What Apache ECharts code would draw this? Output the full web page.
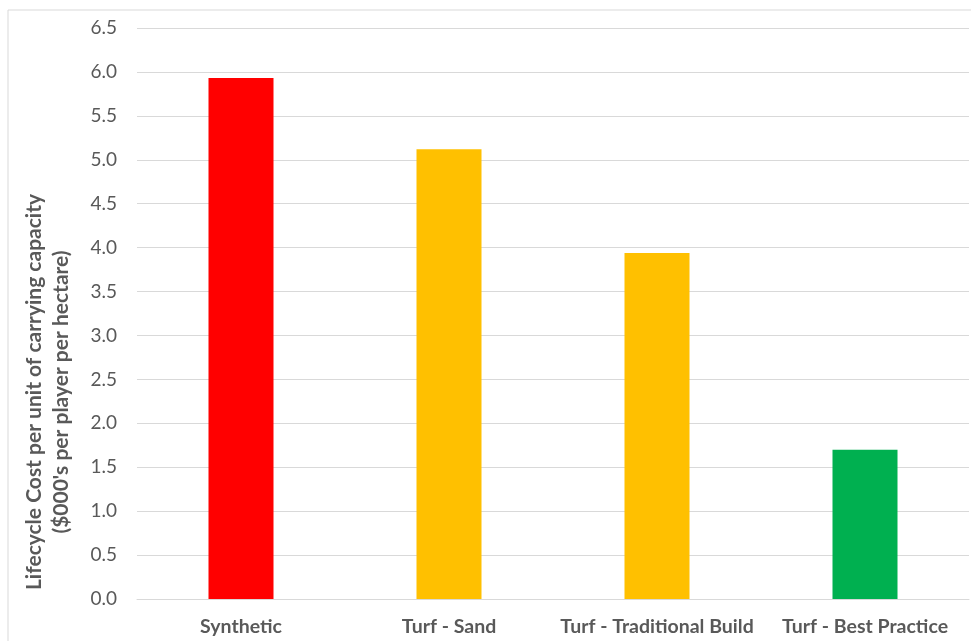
<!DOCTYPE html>
<html><head><meta charset="utf-8">
<script src="https://cdn.jsdelivr.net/npm/echarts@6/dist/echarts.min.js"></script>
<style>html,body{margin:0;padding:0;background:#fff}#c{width:971px;height:641px}</style>
</head><body><div id="c"></div>
<script>
const categories = ['Synthetic', 'Turf - Sand', 'Turf - Traditional Build', 'Turf - Best Practice'];
const values = [5.93, 5.12, 3.94, 1.70];
const barColors = ['#FF0000', '#FFC000', '#FFC000', '#00B050'];
const yAxisTitle = "Lifecycle Cost per unit of carrying capacity\n($000's per player per hectare)";

const chart = echarts.init(document.getElementById('c'), null, {renderer: 'canvas'});
const font = 'Lato, "Open Sans", sans-serif';
chart.setOption({
  animation: false,
  graphic: [
    {type: 'rect', shape: {x: 8, y: 10, width: 980, height: 650}, style: {fill: 'none', stroke: '#d9d9d9', lineWidth: 1}, silent: true},
    {type: 'text', x: 48, y: 392, rotation: Math.PI / 2, silent: true,
     style: {text: yAxisTitle, fill: '#595959', font: 'bold 21px ' + font, align: 'center', verticalAlign: 'middle', lineHeight: 27}}
  ],
  grid: {left: 137, right: 2, top: 28, bottom: 42, containLabel: false},
  xAxis: {
    type: 'category', data: categories,
    axisLine: {show: true, lineStyle: {color: '#d9d9d9', width: 1}},
    axisTick: {show: false},
    axisLabel: {interval: 0, color: '#595959', fontSize: 19.5, fontWeight: 'bold', fontFamily: font, margin: 18}
  },
  yAxis: {
    type: 'value', min: 0, max: 6.5, interval: 0.5,
    axisLine: {show: false}, axisTick: {show: false},
    splitLine: {lineStyle: {color: '#d9d9d9', width: 1}},
    axisLabel: {color: '#595959', fontSize: 19, fontFamily: font, margin: 20, formatter: v => v.toFixed(1)}
  },
  series: [{
    type: 'bar', barWidth: 65,
    data: values.map((v, i) => ({value: v, itemStyle: {color: barColors[i]}}))
  }]
});
</script></body></html>
